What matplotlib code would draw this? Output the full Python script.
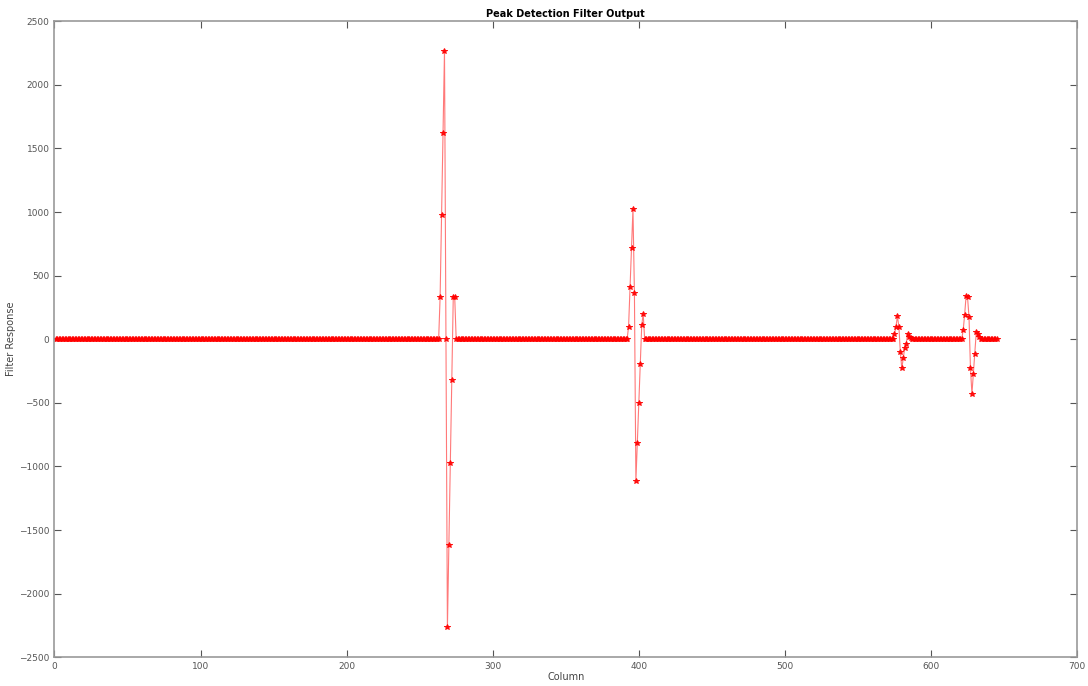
import matplotlib
matplotlib.use('Agg')
import matplotlib.pyplot as plt
import numpy as np

# filter output is zero everywhere except around four peaks
n_columns = 645

peak1_start = 264
peak1_values = [330, 975, 1620, 2270, 0, -2265, -1620, -975, -322, 330, 330]

peak2_start = 393
peak2_values = [100, 410, 720, 1025, 360, -1115, -815, -500, -195, 110, 200]

peak3_start = 575
peak3_values = [40, 100, 180, 100, -100, -230, -150, -70, -40, 45, 20, 10]

peak4_start = 622
peak4_values = [70, 190, 340, 330, 175, -230, -430, -270, -115, 60, 40, 20]

xticks = [0, 100, 200, 300, 400, 500, 600, 700]
yticks = [-2500, -2000, -1500, -1000, -500, 0, 500, 1000, 1500, 2000, 2500]


def build_response():
    cols = np.arange(1, n_columns + 1)
    resp = np.zeros(n_columns)
    for start, vals in [(peak1_start, peak1_values), (peak2_start, peak2_values),
                        (peak3_start, peak3_values), (peak4_start, peak4_values)]:
        resp[start - 1:start - 1 + len(vals)] = vals
    return cols, resp


cols, resp = build_response()

fig = plt.figure(figsize=(10.88, 6.86), dpi=100)
ax = fig.add_axes([0.05, 0.042, 0.94, 0.927])

# thin pale line, then the star markers on top
ax.plot(cols, resp, color='#ff4040', lw=0.8, alpha=0.7)
ax.plot(cols, resp, color='red', lw=0, marker='*', markersize=3.8,
        markeredgewidth=0.7, alpha=0.9)

ax.set_xlim(0, 700)
ax.set_ylim(-2500, 2500)
ax.set_xticks(xticks)
ax.set_yticks(yticks)
ax.tick_params(direction='in', labelsize=6.5, colors='#555555', length=5,
               top=True, right=True)
for s in ax.spines.values():
    s.set_color('#999999')
    s.set_linewidth(1.2)

ax.set_title('Peak Detection Filter Output', fontsize=7, fontweight='bold', pad=3)
ax.set_xlabel('Column', fontsize=7, color='#444444', labelpad=1)
ax.set_ylabel('Filter Response', fontsize=7, color='#444444', labelpad=2)

fig.savefig('out.png', dpi=100)
